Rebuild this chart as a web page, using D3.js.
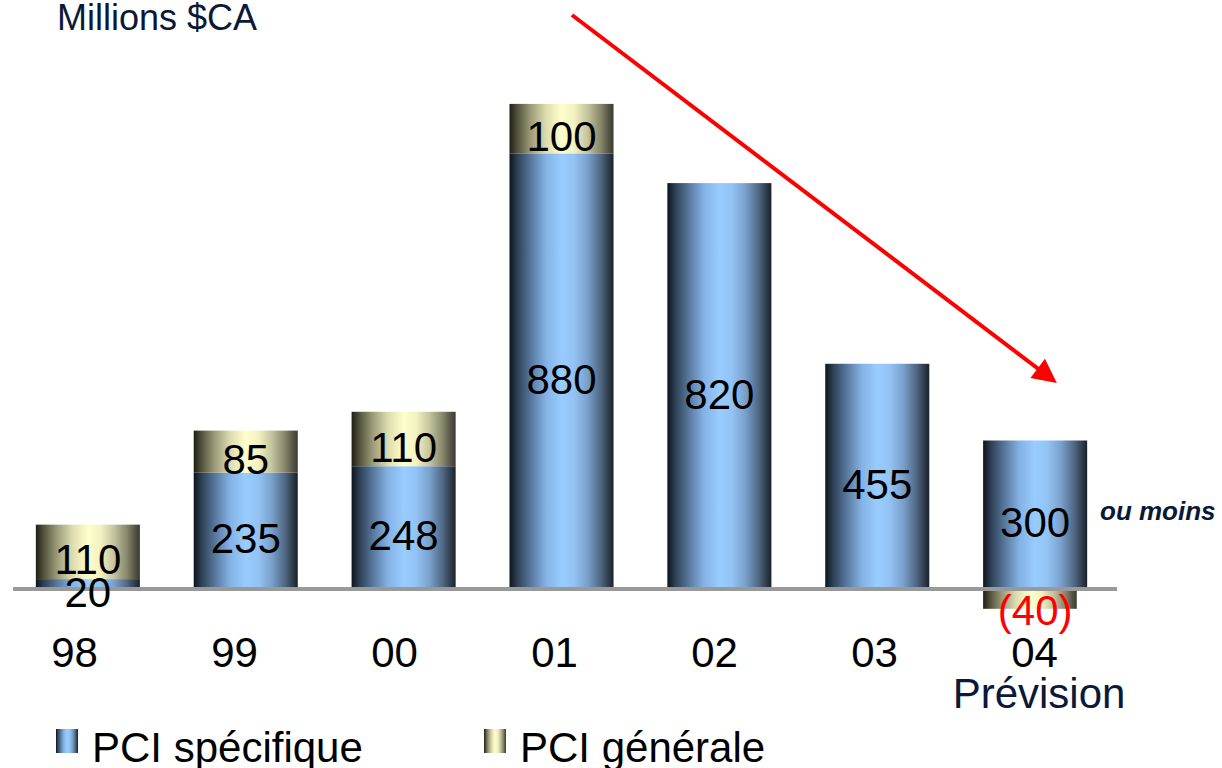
<!DOCTYPE html>
<html>
<head>
<meta charset="utf-8">
<script src="https://cdn.jsdelivr.net/npm/d3@7"></script>
<style>
  html, body { margin: 0; padding: 0; background: #ffffff; }
  svg { display: block; font-family: Arial, "Liberation Sans", sans-serif; }
</style>
</head>
<body>
<svg id="chart" width="1222" height="768"></svg>
<script>
// Provisions pour créances irrécouvrables, millions $CA
const years = ["98", "99", "00", "01", "02", "03", "04"];
const pciSpecifique = [20, 235, 248, 880, 820, 455, 300];
const pciGenerale = [110, 85, 110, 100, 0, 0, -40];
const seriesNames = ["PCI spécifique", "PCI générale"];
const unitLabel = "Millions $CA";
const forecastLabel = "Prévision";
const forecastNote = "ou moins";

const svg = d3.select("#chart");
const navy = "#0b1838";

// Cylinder-like shading across each bar
const defs = svg.append("defs");
function shade(id, stops) {
  const g = defs.append("linearGradient").attr("id", id)
    .attr("x1", "0%").attr("x2", "100%").attr("y1", "0%").attr("y2", "0%");
  stops.forEach(([o, c]) => g.append("stop").attr("offset", o).attr("stop-color", c));
}
shade("gBlue", [
  ["0%", "#0c141c"], ["8%", "#2f4257"], ["20%", "#56759a"], ["35%", "#84b2e4"],
  ["50%", "#99ccff"], ["62%", "#93c3f4"], ["75%", "#7aa0cc"], ["88%", "#4e6680"],
  ["96%", "#2c3846"], ["100%", "#1a2129"]
]);
shade("gYellow", [
  ["0%", "#1e1e12"], ["8%", "#55553e"], ["20%", "#9a9a78"], ["35%", "#dcdcb0"],
  ["50%", "#ffffcc"], ["62%", "#f2f2c2"], ["75%", "#c4c49e"], ["88%", "#85856a"],
  ["96%", "#505042"], ["100%", "#3a3a30"]
]);

const x = d3.scaleBand().domain(years).range([9, 1114]).paddingInner(0.341).paddingOuter(0.17);
const y = d3.scaleLinear().domain([0, 1000]).range([589, 94]);
// Year captions sit on their own evenly spaced row
const xLabel = d3.scalePoint().domain(years).range([74, 1034]);

const rows = years.map((yr, i) => {
  const s = pciSpecifique[i], g = pciGenerale[i];
  const segs = [{ key: "s", v: s, y0: 0, y1: s }];
  if (g > 0) segs.push({ key: "g", v: g, y0: s, y1: s + g });
  if (g < 0) segs.push({ key: "g", v: g, y0: g, y1: 0 });
  return { yr, segs };
});

const barG = svg.append("g");
rows.forEach(r => {
  r.segs.forEach(sg => {
    barG.append("rect")
      .attr("x", x(r.yr))
      .attr("width", sg.v < 0 ? x.bandwidth() * 0.9 : x.bandwidth())
      .attr("y", y(sg.y1))
      .attr("height", y(sg.y0) - y(sg.y1))
      .attr("fill", sg.key === "s" ? "url(#gBlue)" : "url(#gYellow)");
  });
});

// Baseline
svg.append("line")
  .attr("x1", 13).attr("x2", 1117)
  .attr("y1", y(0)).attr("y2", y(0))
  .attr("stroke", "#999999").attr("stroke-width", 4);

// Value labels centred in each segment
rows.forEach(r => {
  r.segs.forEach(sg => {
    const neg = sg.v < 0;
    svg.append("text")
      .attr("x", x(r.yr) + x.bandwidth() / 2)
      .attr("y", (y(sg.y0) + y(sg.y1)) / 2 + (neg ? 12 : 8))
      .attr("text-anchor", "middle")
      .attr("dominant-baseline", "central")
      .attr("font-size", 42)
      .attr("fill", neg ? "#ff0000" : "#000000")
      .text(neg ? "(" + Math.abs(sg.v) + ")" : sg.v);
  });
});

// Category axis
const xAxis = svg.append("g")
  .call(d3.axisBottom(xLabel).tickSize(0).tickPadding(0));
xAxis.select(".domain").remove();
xAxis.selectAll("text")
  .attr("y", 667).attr("dy", null)
  .attr("font-size", 42).attr("fill", "#000")
  .attr("font-family", "Arial, 'Liberation Sans', sans-serif");

svg.append("text")
  .attr("x", xLabel("04") + 5).attr("y", 708)
  .attr("text-anchor", "middle").attr("font-size", 42).attr("fill", navy)
  .text(forecastLabel);

svg.append("text")
  .attr("x", 1100).attr("y", 520)
  .attr("font-size", 26).attr("font-weight", "bold").attr("font-style", "italic")
  .attr("fill", navy)
  .text(forecastNote);

svg.append("text")
  .attr("x", 57).attr("y", 30)
  .attr("font-size", 36).attr("fill", navy)
  .text(unitLabel);

// Downward trend arrow
defs.append("marker").attr("id", "head")
  .attr("viewBox", "0 0 10 10").attr("refX", 8).attr("refY", 5)
  .attr("markerWidth", 6.5).attr("markerHeight", 6).attr("orient", "auto")
  .attr("markerUnits", "strokeWidth")
  .append("path").attr("d", "M0,0 L10,5 L0,10 z").attr("fill", "#ff0000");
svg.append("line")
  .attr("x1", 572).attr("y1", 15).attr("x2", 1053).attr("y2", 380)
  .attr("stroke", "#ff0000").attr("stroke-width", 4)
  .attr("marker-end", "url(#head)");

// Legend
const legend = svg.append("g");
const legendX = [56, 484];
seriesNames.forEach((name, i) => {
  legend.append("rect")
    .attr("x", legendX[i]).attr("y", 729).attr("width", 22).attr("height", 24)
    .attr("fill", i === 0 ? "url(#gBlue)" : "url(#gYellow)");
  legend.append("text")
    .attr("x", legendX[i] + 36).attr("y", 762)
    .attr("font-size", 42).attr("fill", "#000")
    .text(name);
});
</script>
</body>
</html>
